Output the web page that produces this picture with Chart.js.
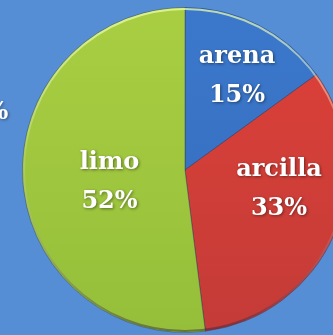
<!DOCTYPE html>
<html>
<head>
<meta charset="utf-8">
<script src="https://cdn.jsdelivr.net/npm/chart.js@4"></script>
<style>
  html, body { margin: 0; padding: 0; overflow: hidden; background: #568ed6; }
  #wrap { position: relative; width: 333px; height: 335px; overflow: hidden; }
  canvas { position: absolute; left: 0; top: 0; }
</style>
</head>
<body>
<div id="wrap"><canvas id="soilChart" width="360" height="335"></canvas></div>
<script>
const soilTypes = ['arena', 'arcilla', 'limo'];
const soilPercent = [15, 33, 52];
// light (top) and shaded (bottom) tone for each slice
const sliceTop = ['#3b78cc', '#de4139', '#a9ce42'];
const sliceBottom = ['#356bbb', '#c43b37', '#95bf3a'];
// nudges for where each label sits inside its slice
const labelDist = [0.66, 0.59, 0.47];
const labelTurn = [2, -12, -5];

document.addEventListener('DOMContentLoaded', function () {
    const ctx = document.getElementById('soilChart').getContext('2d');

    function sliceFill(context) {
        const area = context.chart.chartArea;
        const i = context.dataIndex;
        if (!area) return sliceTop[i];
        const g = context.chart.ctx.createLinearGradient(0, area.top, 0, area.bottom);
        g.addColorStop(0, sliceTop[i]);
        g.addColorStop(1, sliceBottom[i]);
        return g;
    }

    const rimAndLabels = {
        id: 'rimAndLabels',
        afterDatasetsDraw(chart) {
            const c = chart.ctx;
            const arcs = chart.getDatasetMeta(0).data;
            const a0 = arcs[0];
            c.save();
            // soft bevel along the outer edge
            const rim = c.createLinearGradient(0, a0.y - a0.outerRadius, 0, a0.y + a0.outerRadius);
            rim.addColorStop(0, 'rgba(235,255,170,0.75)');
            rim.addColorStop(0.45, 'rgba(255,255,255,0.15)');
            rim.addColorStop(1, 'rgba(40,30,60,0.45)');
            c.strokeStyle = rim;
            c.lineWidth = 2;
            c.filter = 'blur(0.6px)';
            c.beginPath();
            c.arc(a0.x, a0.y, a0.outerRadius - 1.5, 0, Math.PI * 2);
            c.stroke();
            c.filter = 'none';

            c.font = 'bold 24px "DejaVu Serif"';
            c.textAlign = 'center';
            c.textBaseline = 'middle';
            c.fillStyle = '#ffffff';
            c.shadowColor = 'rgba(0,0,0,0.45)';
            c.shadowBlur = 3;
            c.shadowOffsetX = 1;
            c.shadowOffsetY = 1;
            arcs.forEach(function (arc, i) {
                const mid = (arc.startAngle + arc.endAngle) / 2 + labelTurn[i] * Math.PI / 180;
                const r = arc.outerRadius * labelDist[i];
                const x = arc.x + Math.cos(mid) * r;
                const y = arc.y + Math.sin(mid) * r;
                c.fillText(soilTypes[i], x, y - 19);
                c.fillText(soilPercent[i] + '%', x, y + 20);
            });
            // stray label from a neighbouring chart, cut by the left edge
            c.fillText('%', -3, 113);
            c.restore();
        }
    };

    new Chart(ctx, {
        type: 'pie',
        data: {
            labels: soilTypes,
            datasets: [{
                data: soilPercent,
                backgroundColor: sliceFill,
                borderColor: 'rgba(40,50,80,0.4)',
                borderWidth: 1
            }]
        },
        options: {
            responsive: false,
            animation: false,
            layout: { padding: { left: 22, top: 7, right: 12, bottom: 2 } },
            plugins: {
                legend: { display: false },
                tooltip: { enabled: false }
            }
        },
        plugins: [rimAndLabels]
    });
});
</script>
</body>
</html>
